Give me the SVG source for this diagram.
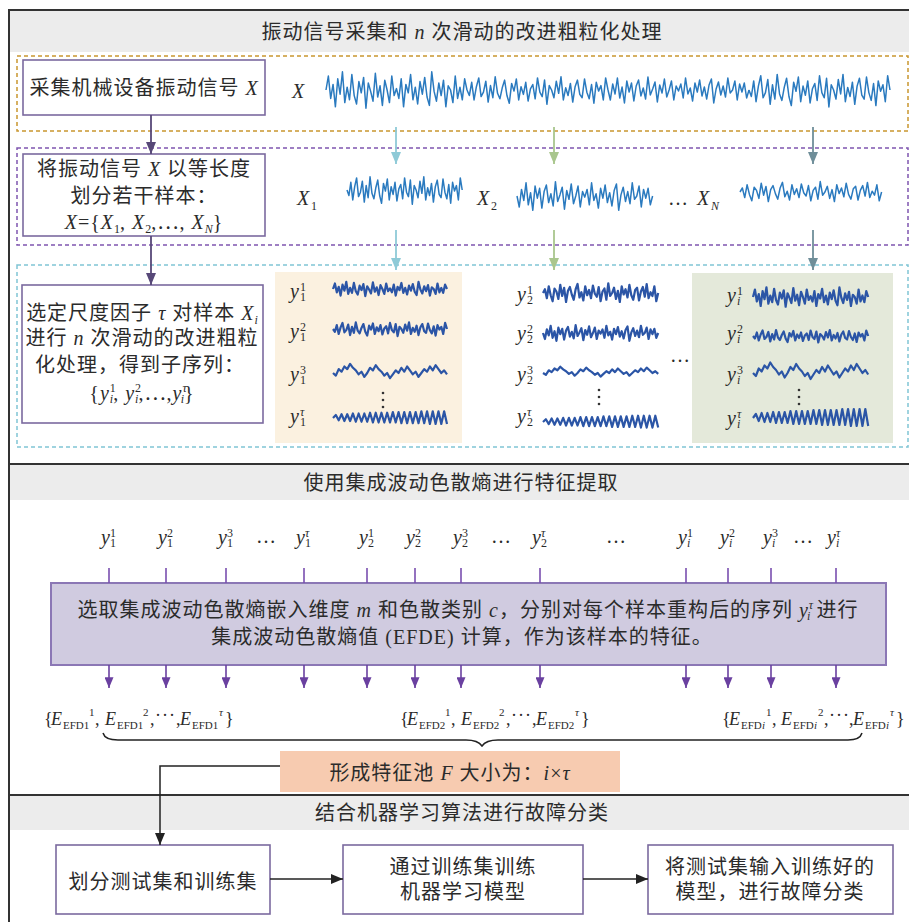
<svg xmlns="http://www.w3.org/2000/svg" width="909" height="922" viewBox="0 0 909 922">
<style>
.t{font-family:"Liberation Serif","Noto Sans CJK SC",serif;font-size:20px;fill:#2b2b2b;letter-spacing:1px}
.v{font-family:"Liberation Serif",serif;font-size:20px;fill:#2b2b2b}
.e{font-family:"Liberation Serif","Noto Sans CJK SC",serif;font-size:18px;fill:#2b2b2b}
.m{text-anchor:middle}
.it{font-style:italic}
.s{font-size:12px;letter-spacing:0}
.es{font-size:11px}
.box{fill:#fff;stroke:#7b6a9f;stroke-width:1.6}
.hdr{fill:#ececec}
.sig{fill:none;stroke:#2a7abf;stroke-width:1.5;stroke-linejoin:round}
.sub{fill:none;stroke:#2b55a6;stroke-width:2.2;stroke-linejoin:round}
.dash{fill:none;stroke-width:1.5;stroke-dasharray:4 3}
</style>
<defs>
<polyline id="n1" vector-effect="non-scaling-stroke" points="0,0 2,-10 4,6 6,-4 8,12 10,-8 12,3 14,-13 16,9 18,-2 20,7 22,-11 24,4 26,10 28,-6 30,2 32,-9 34,13 36,-5 38,1 40,8 42,-12 44,5 46,-3 48,11 50,-7 52,0 54,9 56,-10 58,4 60,-1 62,6 64,-8 66,12 68,-4 70,2 72,-11 74,7 76,-2 78,10 80,-6 82,3 84,-9 86,5 88,11 90,-13 92,1 94,8 96,-5 98,4 100,-7 102,12 104,-3 106,0 108,9 110,-10 112,6 114,-2 116,7 118,-8 120,0"/>
<polyline id="n2" vector-effect="non-scaling-stroke" points="0,0 2,5 4,-7 6,9 8,-3 10,-11 12,6 14,2 16,-8 18,11 20,-4 22,7 24,-12 26,3 28,8 30,-2 32,-9 34,5 36,12 38,-6 40,1 42,-10 44,9 46,-3 48,4 50,-7 52,10 54,-1 56,-5 58,8 60,-11 62,2 64,6 66,-9 68,13 70,-4 72,0 74,7 76,-8 78,3 80,-12 82,9 84,-2 86,5 88,-6 90,11 92,-3 94,-9 96,4 98,7 100,-10 102,2 104,8 106,-5 108,12 110,-7 112,1 114,-4 116,9 118,-11 120,0"/>
<polyline id="sm" vector-effect="non-scaling-stroke" points="0,0 3,2 6,-3 9,-1 12,-5 15,-3 18,-7 21,-4 24,-2 27,1 30,-1 33,3 36,0 39,-4 42,-2 45,-6 48,-3 51,-1 54,2 57,0 60,4 63,1 66,-2 69,0 72,-4 75,-1 78,-5 81,-2 84,1 87,-1 90,3 93,0 96,-3 99,-1 102,-5 105,-2 108,-6 111,-3 114,0 117,-2 120,1"/>
<polyline id="zz" vector-effect="non-scaling-stroke" points="0,0 3,-4 6,3 9,-5 12,4 15,-5 18,4 21,-6 24,5 27,-6 30,5 33,-6 36,5 39,-7 42,6 45,-7 48,6 51,-7 54,6 57,-7 60,6 63,-8 66,6 69,-8 72,7 75,-8 78,7 81,-8 84,7 87,-8 90,7 93,-9 96,7 99,-9 102,8 105,-9 108,8 111,-9 114,8 117,-9 120,8"/>
<marker id="aDark" viewBox="0 0 12 10" refX="12" refY="5" markerWidth="12" markerHeight="10" markerUnits="userSpaceOnUse" orient="auto"><path d="M0,0L12,5L0,10z" fill="#574878"/></marker>
<marker id="aBlue" viewBox="0 0 12 10" refX="12" refY="5" markerWidth="12" markerHeight="10" markerUnits="userSpaceOnUse" orient="auto"><path d="M0,0L12,5L0,10z" fill="#8ecad7"/></marker>
<marker id="aGreen" viewBox="0 0 12 10" refX="12" refY="5" markerWidth="12" markerHeight="10" markerUnits="userSpaceOnUse" orient="auto"><path d="M0,0L12,5L0,10z" fill="#a9c68d"/></marker>
<marker id="aGray" viewBox="0 0 12 10" refX="12" refY="5" markerWidth="12" markerHeight="10" markerUnits="userSpaceOnUse" orient="auto"><path d="M0,0L12,5L0,10z" fill="#6f8e99"/></marker>
<marker id="aViolet" viewBox="0 0 12 10" refX="12" refY="5" markerWidth="12" markerHeight="9" markerUnits="userSpaceOnUse" orient="auto"><path d="M0,0L12,5L0,10z" fill="#6a40a0"/></marker>
<marker id="aBlack" viewBox="0 0 12 10" refX="12" refY="5" markerWidth="12" markerHeight="10" markerUnits="userSpaceOnUse" orient="auto"><path d="M0,0L12,5L0,10z" fill="#222"/></marker>
</defs>

<rect width="909" height="922" fill="#fff"/>

<g id="frame">
<rect class="hdr" x="10" y="11" width="899" height="41"/>
<rect class="hdr" x="10" y="465" width="899" height="35"/>
<rect class="hdr" x="10" y="796" width="899" height="34"/>
<path d="M9,922V10H909M9,464H909M9,795H909" fill="none" stroke="#333" stroke-width="2"/>
</g>

<g id="section1-title">
<text class="t m" x="462" y="39">振动信号采集和 <tspan class="it">n</tspan> 次滑动的改进粗粒化处理</text>
</g>
<g id="section2-title">
<text class="t m" x="461" y="490">使用集成波动色散熵进行特征提取</text>
</g>
<g id="section3-title">
<text class="t m" x="462" y="820">结合机器学习算法进行故障分类</text>
</g>

<g id="dashed-regions">
<rect class="dash" x="17" y="56" width="891" height="75" stroke="#c9962f"/>
<rect class="dash" x="17" y="148" width="891" height="97" stroke="#7f56b0"/>
<rect class="dash" x="17" y="265" width="891" height="182" stroke="#80c5d5"/>
</g>

<g id="collect">
<rect class="box" x="23" y="60" width="242" height="55"/>
<text class="t m" x="144" y="95">采集机械设备振动信号 <tspan class="it">X</tspan></text>
</g>

<g id="split">
<rect class="box" x="23" y="154" width="242" height="82"/>
<text class="t m" x="144" y="176">将振动信号 <tspan class="it">X</tspan> 以等长度</text>
<text class="t m" x="144" y="203">划分若干样本：</text>
<text class="t m" x="144" y="229"><tspan class="it">X</tspan>={<tspan class="it">X</tspan><tspan class="s" dy="4">1</tspan><tspan dy="-4">, </tspan><tspan class="it">X</tspan><tspan class="s" dy="4">2</tspan><tspan dy="-4">,⋯, </tspan><tspan class="it">X</tspan><tspan class="s it" dy="4">N</tspan><tspan dy="-4">}</tspan></text>
</g>

<g id="coarse">
<rect class="box" x="22" y="285" width="241" height="138"/>
<text class="t m" x="142" y="320">选定尺度因子 <tspan class="it">τ</tspan> 对样本 <tspan class="it">X</tspan><tspan class="s it" dy="4">i</tspan></text>
<text class="t m" x="142" y="345">进行 <tspan class="it">n</tspan> 次滑动的改进粗粒</text>
<text class="t m" x="140" y="372">化处理，得到子序列：</text>
<text class="t m" x="142" y="400">{<tspan class="it">y</tspan><tspan class="s" dy="-8">1</tspan><tspan class="s it" dx="-6" dy="11">i</tspan><tspan dy="-3">, </tspan><tspan class="it">y</tspan><tspan class="s" dy="-8">2</tspan><tspan class="s it" dx="-6" dy="11">i</tspan><tspan dy="-3">,⋯,</tspan><tspan class="it">y</tspan><tspan class="s it" dy="-8">τ</tspan><tspan class="s it" dx="-6" dy="11">i</tspan><tspan dy="-3">}</tspan></text>
</g>

<g id="signal-X">
<text class="v it" x="292" y="98">X</text>
<use class="sig" href="#n1" transform="translate(326,90) scale(1.175,1.4)"/>
<use class="sig" href="#n2" transform="translate(467,90) scale(1.175,1.1)"/>
<use class="sig" href="#n1" transform="translate(608,90) scale(1.175,-1.0)"/>
<use class="sig" href="#n2" transform="translate(749,90) scale(1.175,1.3)"/>
</g>

<g id="samples">
<text class="v it" x="297" y="205">X</text><text class="v s" x="311" y="210">1</text>
<use class="sig" href="#n2" transform="translate(347,190) scale(0.96,1.1)"/>
<text class="v it" x="477" y="205">X</text><text class="v s" x="491" y="210">2</text>
<use class="sig" href="#n1" transform="translate(517,196) scale(1.13,-1.1)"/>
<text class="v" x="668" y="205">…</text>
<text class="v it" x="697" y="205">X</text><text class="v s it" x="711" y="210">N</text>
<use class="sig" href="#n2" transform="translate(740,192) scale(1.18,-0.8)"/>
</g>

<g id="panel-1">
<rect x="275" y="272" width="187" height="171" fill="#fbf1e0"/>
<text class="v"><tspan class="it" x="290" y="298">y</tspan><tspan class="s" x="300" y="291">1</tspan><tspan class="s" x="300" y="301">1</tspan></text>
<text class="v"><tspan class="it" x="290" y="338">y</tspan><tspan class="s" x="300" y="331">2</tspan><tspan class="s" x="300" y="341">1</tspan></text>
<text class="v"><tspan class="it" x="290" y="381">y</tspan><tspan class="s" x="300" y="374">3</tspan><tspan class="s" x="300" y="384">1</tspan></text>
<text class="v"><tspan class="it" x="290" y="423">y</tspan><tspan class="s it" x="300" y="416">τ</tspan><tspan class="s" x="300" y="426">1</tspan></text>
<use class="sub" href="#n1" transform="translate(333,289) scale(0.95,0.55)"/>
<use class="sub" href="#n2" transform="translate(333,329) scale(0.95,0.55)"/>
<use class="sub" href="#sm" transform="translate(333,373) scale(0.95,1.3)"/>
<use class="sub" href="#zz" transform="translate(333,418) scale(0.95,0.75)"/>
<g fill="#333"><circle cx="383" cy="393" r="1.3"/><circle cx="383" cy="400" r="1.3"/><circle cx="383" cy="407" r="1.3"/></g>
</g>

<g id="panel-2">
<text class="v"><tspan class="it" x="517" y="301">y</tspan><tspan class="s" x="527" y="294">1</tspan><tspan class="s" x="527" y="304">2</tspan></text>
<text class="v"><tspan class="it" x="517" y="340">y</tspan><tspan class="s" x="527" y="333">2</tspan><tspan class="s" x="527" y="343">2</tspan></text>
<text class="v"><tspan class="it" x="517" y="381">y</tspan><tspan class="s" x="527" y="374">3</tspan><tspan class="s" x="527" y="384">2</tspan></text>
<text class="v"><tspan class="it" x="517" y="423">y</tspan><tspan class="s it" x="527" y="416">τ</tspan><tspan class="s" x="527" y="426">2</tspan></text>
<use class="sub" href="#n2" transform="translate(543,293) scale(0.96,-0.75)"/>
<use class="sub" href="#n1" transform="translate(543,333) scale(0.96,-0.6)"/>
<use class="sub" href="#sm" transform="translate(543,373) scale(0.96,0.9)"/>
<use class="sub" href="#zz" transform="translate(543,422) scale(0.96,0.7)"/>
<g fill="#333"><circle cx="599" cy="390" r="1.3"/><circle cx="599" cy="397" r="1.3"/><circle cx="599" cy="404" r="1.3"/></g>
<text class="v" x="670" y="362">…</text>
</g>

<g id="panel-i">
<rect x="692" y="273" width="201" height="170" fill="#e4e9da"/>
<text class="v"><tspan class="it" x="727" y="302">y</tspan><tspan class="s" x="737" y="295">1</tspan><tspan class="s it" x="737" y="305">i</tspan></text>
<text class="v"><tspan class="it" x="727" y="340">y</tspan><tspan class="s" x="737" y="333">2</tspan><tspan class="s it" x="737" y="343">i</tspan></text>
<text class="v"><tspan class="it" x="727" y="381">y</tspan><tspan class="s" x="737" y="374">3</tspan><tspan class="s it" x="737" y="384">i</tspan></text>
<text class="v"><tspan class="it" x="727" y="425">y</tspan><tspan class="s it" x="737" y="418">τ</tspan><tspan class="s it" x="737" y="428">i</tspan></text>
<use class="sub" href="#n1" transform="translate(753,297) scale(0.96,0.75)"/>
<use class="sub" href="#n2" transform="translate(753,336) scale(0.96,0.5)"/>
<use class="sub" href="#sm" transform="translate(753,373) scale(0.96,1.5)"/>
<use class="sub" href="#zz" transform="translate(753,418) scale(0.96,1.0)"/>
<g fill="#333"><circle cx="799" cy="390" r="1.3"/><circle cx="799" cy="397" r="1.3"/><circle cx="799" cy="404" r="1.3"/></g>
</g>

<g id="subseq-labels">
<text class="v"><tspan class="it" x="101" y="544">y</tspan><tspan class="s" x="110" y="537">1</tspan><tspan class="s" x="110" y="547">1</tspan></text>
<text class="v"><tspan class="it" x="158" y="544">y</tspan><tspan class="s" x="167" y="537">2</tspan><tspan class="s" x="167" y="547">1</tspan></text>
<text class="v"><tspan class="it" x="218" y="544">y</tspan><tspan class="s" x="227" y="537">3</tspan><tspan class="s" x="227" y="547">1</tspan></text>
<text class="v" x="256" y="543">…</text>
<text class="v"><tspan class="it" x="296" y="544">y</tspan><tspan class="s it" x="305" y="537">τ</tspan><tspan class="s" x="305" y="547">1</tspan></text>
<text class="v"><tspan class="it" x="359" y="544">y</tspan><tspan class="s" x="368" y="537">1</tspan><tspan class="s" x="368" y="547">2</tspan></text>
<text class="v"><tspan class="it" x="406" y="544">y</tspan><tspan class="s" x="415" y="537">2</tspan><tspan class="s" x="415" y="547">2</tspan></text>
<text class="v"><tspan class="it" x="453" y="544">y</tspan><tspan class="s" x="462" y="537">3</tspan><tspan class="s" x="462" y="547">2</tspan></text>
<text class="v" x="491" y="543">…</text>
<text class="v"><tspan class="it" x="532" y="544">y</tspan><tspan class="s it" x="541" y="537">τ</tspan><tspan class="s" x="541" y="547">2</tspan></text>
<text class="v" x="606" y="543">…</text>
<text class="v"><tspan class="it" x="678" y="544">y</tspan><tspan class="s" x="687" y="537">1</tspan><tspan class="s it" x="687" y="547">i</tspan></text>
<text class="v"><tspan class="it" x="720" y="544">y</tspan><tspan class="s" x="729" y="537">2</tspan><tspan class="s it" x="729" y="547">i</tspan></text>
<text class="v"><tspan class="it" x="763" y="544">y</tspan><tspan class="s" x="772" y="537">3</tspan><tspan class="s it" x="772" y="547">i</tspan></text>
<text class="v" x="793" y="543">…</text>
<text class="v"><tspan class="it" x="827" y="544">y</tspan><tspan class="s it" x="836" y="537">τ</tspan><tspan class="s it" x="836" y="547">i</tspan></text>
</g>

<g id="efde">
<rect x="51" y="583" width="835" height="82" fill="#d0cbe0" stroke="#8b77b5" stroke-width="2"/>
<text class="t m" x="468" y="617">选取集成波动色散熵嵌入维度 <tspan class="it">m</tspan> 和色散类别 <tspan class="it">c</tspan>，分别对每个样本重构后的序列 <tspan class="it">y</tspan><tspan class="s it" dy="-8">τ</tspan><tspan class="s it" dx="-6" dy="11">i</tspan><tspan dy="-3"> 进行</tspan></text>
<text class="t m" x="462" y="644">集成波动色散熵值 (EFDE) 计算，作为该样本的特征。</text>
</g>

<g id="features">
<text class="e"><tspan x="44" y="725">{</tspan><tspan class="it" x="51" y="725">E</tspan><tspan class="es" x="63" y="729">EFD1</tspan><tspan class="es" x="89" y="716">1</tspan><tspan x="95" y="725">,</tspan><tspan class="it" x="105" y="725">E</tspan><tspan class="es" x="117" y="729">EFD1</tspan><tspan class="es" x="143" y="716">2</tspan><tspan x="150" y="725">,</tspan><tspan x="155" y="721" letter-spacing="1">···</tspan><tspan x="176" y="725">,</tspan><tspan class="it" x="180" y="725">E</tspan><tspan class="es" x="192" y="729">EFD1</tspan><tspan class="es it" x="219" y="716">τ</tspan><tspan x="225" y="725">}</tspan></text>
<text class="e"><tspan x="400" y="725">{</tspan><tspan class="it" x="407" y="725">E</tspan><tspan class="es" x="419" y="729">EFD2</tspan><tspan class="es" x="445" y="716">1</tspan><tspan x="451" y="725">,</tspan><tspan class="it" x="461" y="725">E</tspan><tspan class="es" x="473" y="729">EFD2</tspan><tspan class="es" x="499" y="716">2</tspan><tspan x="506" y="725">,</tspan><tspan x="511" y="721" letter-spacing="1">···</tspan><tspan x="532" y="725">,</tspan><tspan class="it" x="536" y="725">E</tspan><tspan class="es" x="548" y="729">EFD2</tspan><tspan class="es it" x="575" y="716">τ</tspan><tspan x="581" y="725">}</tspan></text>
<text class="e"><tspan x="722" y="725">{</tspan><tspan class="it" x="729" y="725">E</tspan><tspan class="es" x="741" y="729">EFD</tspan><tspan class="es it" x="762" y="729">i</tspan><tspan class="es" x="766" y="716">1</tspan><tspan x="772" y="725">,</tspan><tspan class="it" x="781" y="725">E</tspan><tspan class="es" x="793" y="729">EFD</tspan><tspan class="es it" x="814" y="729">i</tspan><tspan class="es" x="818" y="716">2</tspan><tspan x="824" y="725">,</tspan><tspan x="829" y="721" letter-spacing="1">···</tspan><tspan x="849" y="725">,</tspan><tspan class="it" x="853" y="725">E</tspan><tspan class="es" x="865" y="729">EFD</tspan><tspan class="es it" x="886" y="729">i</tspan><tspan class="es it" x="890" y="716">τ</tspan><tspan x="896" y="725">}</tspan></text>
<path d="M103,733Q105,740 118,740L466,740Q478,740 482,746Q486,740 498,740L848,740Q860,740 862,733" fill="none" stroke="#222" stroke-width="1.5"/>
</g>

<g id="pool">
<rect x="280" y="751" width="340" height="41" fill="#f7cbb0"/>
<text class="t m" x="450" y="780">形成特征池 <tspan class="it">F</tspan> 大小为：<tspan class="it">i</tspan>×<tspan class="it">τ</tspan></text>
</g>

<g id="split-sets">
<rect class="box" x="56" y="845" width="214" height="69"/>
<text class="t m" x="163" y="889">划分测试集和训练集</text>
</g>
<g id="train">
<rect class="box" x="343" y="845" width="240" height="69"/>
<text class="t m" x="463" y="874">通过训练集训练</text>
<text class="t m" x="463" y="899">机器学习模型</text>
</g>
<g id="classify">
<rect class="box" x="648" y="845" width="245" height="69"/>
<text class="t m" x="770" y="874">将测试集输入训练好的</text>
<text class="t m" x="770" y="899">模型，进行故障分类</text>
</g>

<g id="connectors" fill="none" stroke-width="1.8">
<line x1="151" y1="115" x2="151" y2="154" stroke="#574878" marker-end="url(#aDark)"/>
<line x1="151" y1="236" x2="151" y2="285" stroke="#574878" marker-end="url(#aDark)"/>
<line x1="396" y1="127" x2="396" y2="164" stroke="#8ecad7" marker-end="url(#aBlue)"/>
<line x1="554" y1="127" x2="554" y2="164" stroke="#a9c68d" marker-end="url(#aGreen)"/>
<line x1="813" y1="127" x2="813" y2="164" stroke="#6f8e99" marker-end="url(#aGray)"/>
<line x1="396" y1="230" x2="396" y2="270" stroke="#8ecad7" marker-end="url(#aBlue)"/>
<line x1="554" y1="230" x2="554" y2="270" stroke="#a9c68d" marker-end="url(#aGreen)"/>
<line x1="813" y1="230" x2="813" y2="270" stroke="#6f8e99" marker-end="url(#aGray)"/>
<g stroke="#7a4fb0" stroke-width="1.6">
<path d="M109,568V583M166,568V583M226,568V583M304,568V583M367,568V583M415,568V583M461,568V583M540,568V583M686,568V583M728,568V583M771,568V583M836,568V583"/>
</g>
<g stroke="#6a40a0" stroke-width="1.6" marker-end="url(#aViolet)">
<line x1="109" y1="665" x2="109" y2="688"/>
<line x1="166" y1="665" x2="166" y2="688"/>
<line x1="226" y1="665" x2="226" y2="688"/>
<line x1="304" y1="665" x2="304" y2="688"/>
<line x1="367" y1="665" x2="367" y2="688"/>
<line x1="415" y1="665" x2="415" y2="688"/>
<line x1="461" y1="665" x2="461" y2="688"/>
<line x1="540" y1="665" x2="540" y2="688"/>
<line x1="686" y1="665" x2="686" y2="688"/>
<line x1="728" y1="665" x2="728" y2="688"/>
<line x1="771" y1="665" x2="771" y2="688"/>
<line x1="836" y1="665" x2="836" y2="688"/>
</g>
<path d="M280,766H160V845" stroke="#222" stroke-width="1.5" marker-end="url(#aBlack)"/>
<line x1="270" y1="879" x2="343" y2="879" stroke="#222" stroke-width="1.5" marker-end="url(#aBlack)"/>
<line x1="583" y1="879" x2="648" y2="879" stroke="#222" stroke-width="1.5" marker-end="url(#aBlack)"/>
</g>
</svg>
